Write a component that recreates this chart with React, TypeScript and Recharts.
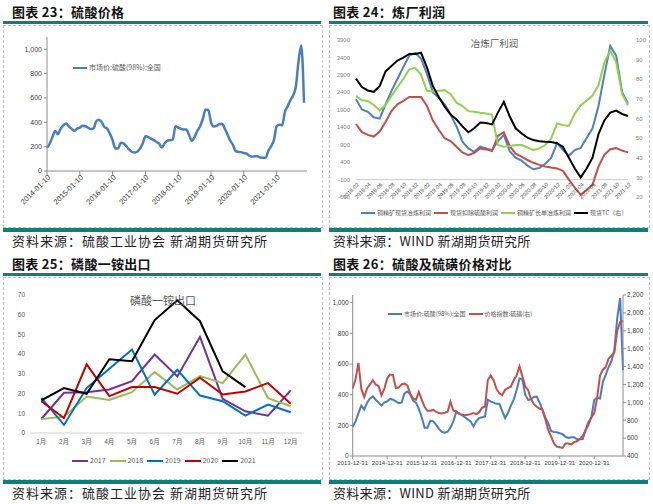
import React from 'react';
import { LineChart, Line, XAxis, YAxis, ReferenceLine } from 'recharts';

// ---- 图表23 / 图表26: 硫酸市场价 (98%, 全国), monthly 2014-01 .. 2021-11
const acidYears = [2014, 2015, 2016, 2017, 2018, 2019, 2020, 2021];
const monthNums = ['01', '02', '03', '04', '05', '06', '07', '08', '09', '10', '11', '12'];
const acid2014 = [190, 226, 280, 329, 302, 348, 375, 389, 367, 348, 329, 348];
const acid2015 = [356, 372, 367, 356, 345, 348, 408, 421, 402, 361, 348, 307];
const acid2016 = [253, 185, 185, 231, 226, 204, 177, 158, 152, 158, 185, 226];
const acid2017 = [285, 280, 266, 253, 239, 226, 193, 226, 247, 253, 258, 367];
const acid2018 = [356, 348, 340, 340, 293, 247, 280, 329, 367, 429, 505, 500];
const acid2019 = [400, 366, 370, 385, 388, 350, 300, 250, 215, 163, 157, 155];
const acid2020 = [148, 142, 125, 118, 122, 122, 110, 109, 111, 168, 204, 253];
const acid2021 = [367, 380, 375, 484, 530, 580, 620, 690, 900, 1030, 560];

// 价格指数: 硫磺 (右轴)
const sulfur2014 = [1155, 1260, 1441, 1150, 1060, 1155, 1200, 1247, 1200, 1180, 1080, 1150];
const sulfur2015 = [1270, 1310, 1305, 1160, 1165, 1200, 1210, 1190, 1100, 1043, 1030, 1117];
const sulfur2016 = [1030, 950, 906, 906, 915, 895, 880, 876, 883, 894, 1006, 906];
const sulfur2017 = [900, 870, 860, 857, 862, 868, 880, 868, 890, 940, 950, 1250];
const sulfur2018 = [1300, 1247, 1150, 1100, 1080, 1140, 1160, 1175, 1247, 1300, 1404, 1290];
const sulfur2019 = [1180, 1136, 1040, 980, 950, 931, 915, 810, 690, 616, 540, 504];
const sulfur2020 = [497, 490, 540, 540, 530, 555, 565, 590, 625, 690, 780, 830];
const sulfur2021 = [880, 1050, 1300, 1365, 1395, 1490, 1520, 1560, 1800, 1898, 1910];

const acidByYear = [acid2014, acid2015, acid2016, acid2017, acid2018, acid2019, acid2020, acid2021];
const sulfurByYear = [sulfur2014, sulfur2015, sulfur2016, sulfur2017, sulfur2018, sulfur2019, sulfur2020, sulfur2021];

// ---- 图表24: 冶炼厂利润, monthly 2018-02 .. 2021-12
const profitMonths = [
  '2018-02', '2018-03', '2018-04', '2018-05', '2018-06', '2018-07', '2018-08', '2018-09', '2018-10', '2018-11', '2018-12',
  '2019-01', '2019-02', '2019-03', '2019-04', '2019-05', '2019-06', '2019-07', '2019-08', '2019-09', '2019-10', '2019-11', '2019-12',
  '2020-01', '2020-02', '2020-03', '2020-04', '2020-05', '2020-06', '2020-07', '2020-08', '2020-09', '2020-10', '2020-11', '2020-12',
  '2021-01', '2021-02', '2021-03', '2021-04', '2021-05', '2021-06', '2021-07', '2021-08', '2021-09', '2021-10', '2021-11', '2021-12',
];
const spotProfit = [
  2201, 1910, 1842, 1686, 1647, 2055, 2443, 2783, 3123, 3450, 3531, 3366, 2929, 2395, 2249, 2055, 1764, 1424, 987, 793, 696, 841, 793, 744,
  1000, 1180, 712, 525, 446, 300, 194, 230, 350, 520, 947, 745, 580, 745, 806, 1088, 1369, 2000, 2900, 3731, 3450, 2404, 2072,
];
const spotExAcidProfit = [
  1492, 1259, 1181, 1133, 1278, 1550, 1861, 2055, 2152, 2269, 2269, 2269, 2007, 1589, 1327, 1084, 1006, 841, 676, 599, 667, 793, 764, 715,
  1150, 1256, 857, 640, 560, 460, 380, 320, 275, 244, 220, 150, -100, -330, -530, -400, -250, 270, 610, 770, 800, 730, 680,
];
const longTermProfit = [
  2298, 2172, 2152, 2036, 1880, 2036, 2298, 2541, 2783, 3055, 3104, 2910, 2443, 2424, 2443, 2463, 2346, 2104, 2007, 1861, 1842, 1812, 1793, 1764,
  890, 840, 860, 890, 890, 820, 745, 793, 890, 1075, 1505, 1460, 1440, 1790, 2025, 2168, 2310, 2593, 3250, 3600, 3260, 2357, 2025,
];
const spotTC = [
  80.3, 76, 74.3, 73.6, 76.5, 84, 86.7, 89.5, 91, 92.9, 92.9, 93.5, 86, 76.5, 71, 66, 62, 59.5, 56, 53, 55, 58, 57.7, 57,
  63, 68.5, 61, 55, 52.4, 50.2, 49, 48.4, 48.1, 48, 47.4, 45.5, 40, 34.5, 30, 34.5, 40, 52, 59, 63, 64, 62.3, 61.3,
];
const profitLeftTicks = [-600, -100, 400, 900, 1400, 1900, 2400, 2900, 3400, 3900];
const profitRightTicks = [20, 30, 40, 50, 60, 70, 80, 90, 100];

// ---- 图表25: 磷酸一铵出口 (万吨)
const exportMonths = ['1月', '2月', '3月', '4月', '5月', '6月', '7月', '8月', '9月', '10月', '11月', '12月'];
const export2017 = [7.1, 20.4, 20.7, 22.1, 26.3, 39.8, 28.7, 48.8, 17.3, 11, 8.8, 21.6];
const export2018 = [7.1, 8.3, 18.5, 16.8, 20.7, 30.9, 22.1, 28.9, 25.3, 39.8, 17.7, 13.6];
const export2019 = [17.8, 4.1, 22.8, 32.6, 42.3, 19.4, 32.1, 19, 16.1, 8.8, 14.4, 10.5];
const export2020 = [16.1, 7.6, 34.8, 18.7, 23.3, 23.3, 19.9, 28, 19.5, 21.1, 25.3, 14.8];
const export2021 = [16.5, 22.8, 19.9, 37.4, 36.4, 57.3, 67.3, 56.7, 31.3, 23.3];
const exportTicks = [0, 10, 20, 30, 40, 50, 60, 70];

const TEAL = '#0c7f77';
const CN = '"Noto Sans CJK SC", sans-serif';
const NUM = '"Liberation Sans", "Noto Sans CJK SC", sans-serif';
const AXIS = '#8c8c8c';
const fmt = (v: number) => v.toLocaleString('en-US');

const acidRows = acidYears.flatMap((y, yi) =>
  acidByYear[yi].map((v, mi) => ({ d: `${y}-${monthNums[mi]}-10`, acid: v, sulfur: sulfurByYear[yi][mi] }))
);
const janKeys = acidYears.map((y) => `${y}-01-10`);

const profitRows = profitMonths.map((m, i) => ({
  m,
  spot: spotProfit[i],
  net: spotExAcidProfit[i],
  longTerm: longTermProfit[i],
  tc: spotTC[i],
}));

const exportRows = exportMonths.map((m, i) => ({
  m,
  y2017: export2017[i],
  y2018: export2018[i],
  y2019: export2019[i],
  y2020: export2020[i],
  y2021: i < export2021.length ? export2021[i] : null,
}));

const profitSeries = [
  { key: 'spot', name: '铜精矿现货冶炼利润', color: '#4f81bd', axis: 'l' },
  { key: 'net', name: '现货扣除硫酸利润', color: '#c0504d', axis: 'l' },
  { key: 'longTerm', name: '铜精矿长单冶炼利润', color: '#92d050', axis: 'l' },
  { key: 'tc', name: '现货TC（右）', color: '#000000', axis: 'r' },
];

const exportSeries = [
  { key: 'y2017', name: '2017', color: '#7030a0' },
  { key: 'y2018', name: '2018', color: '#9bbb59' },
  { key: 'y2019', name: '2019', color: '#0070c0' },
  { key: 'y2020', name: '2020', color: '#c00000' },
  { key: 'y2021', name: '2021', color: '#000000' },
];

const rotatedTick = (fontSize: number, dx: number, dy: number) => (props: any) => {
  const { x, y, payload } = props;
  return (
    <g transform={`translate(${x + dx},${y + dy})`}>
      <text x={0} y={0} dy={fontSize * 0.35} textAnchor="end" transform="rotate(-45)" fontSize={fontSize} fill="#404040">
        {payload.value}
      </text>
    </g>
  );
};

type LegendItem = { name: string; color: string };

function LegendRow({ items, left, top, fontSize, lineW, gap }: { items: LegendItem[]; left: number; top: number; fontSize: number; lineW: number; gap: number }) {
  return (
    <div style={{ position: 'absolute', left, top, display: 'flex', alignItems: 'center', gap, fontSize, color: '#595959', whiteSpace: 'nowrap', lineHeight: 1, fontFamily: CN }}>
      {items.map((it) => (
        <div key={it.name} style={{ display: 'flex', alignItems: 'center' }}>
          <span style={{ display: 'inline-block', width: lineW, height: 2, background: it.color, marginRight: 2 }} />
          <span>{it.name}</span>
        </div>
      ))}
    </div>
  );
}

function Panel({ left, top, width, title, source, textX, spacing, children }: { left: number; top: number; width: number; title: string; source: string; textX: number; spacing: number; children: React.ReactNode }) {
  return (
    <div style={{ position: 'absolute', left, top, width, height: 252 }}>
      <div style={{ position: 'absolute', left: textX, top: 4, fontFamily: CN, fontWeight: 700, fontSize: 13, lineHeight: '15px', color: '#111', whiteSpace: 'nowrap', letterSpacing: 0.3 }}>
        {title}
      </div>
      <div style={{ position: 'absolute', left: 3, top: 21, width: width - 8, height: 3, background: TEAL }} />
      <div style={{ position: 'absolute', left: 3, top: 25, width: width - 6, height: 203, border: '1px dashed #c4c4c4', boxSizing: 'border-box' }} />
      <div style={{ position: 'absolute', left: 0, top: 25 }}>{children}</div>
      <div style={{ position: 'absolute', left: 3, top: 228, width: width - 8, height: 3.5, background: TEAL }} />
      <div style={{ position: 'absolute', left: textX, top: 233, fontFamily: CN, fontSize: 13, lineHeight: '16px', color: '#222', whiteSpace: 'nowrap', letterSpacing: spacing }}>
        {source}
      </div>
    </div>
  );
}

export default function App() {
  return (
    <div style={{ position: 'absolute', left: 0, top: 0, width: 653, height: 504, background: '#fff', fontFamily: NUM, overflow: 'hidden' }}>
      {/* 图表23 */}
      <Panel left={0} top={0} width={326} title="图表 23：硫酸价格" source="资料来源：硫酸工业协会  新湖期货研究所" textX={12} spacing={1}>
        <LineChart width={326} height={203} data={acidRows} margin={{ top: 12, right: 19, bottom: 0, left: 0 }}>
          <XAxis
            dataKey="d"
            ticks={janKeys}
            interval={0}
            height={57}
            tickSize={4}
            tickMargin={1}
            stroke={AXIS}
            padding={{ left: 0, right: 3 }}
            tick={rotatedTick(7.5, 2, 0)}
          />
          <YAxis
            width={47}
            domain={[0, 1100]}
            ticks={[0, 200, 400, 600, 800, 1000]}
            tickFormatter={fmt}
            tickSize={3}
            tickMargin={2}
            stroke={AXIS}
            tick={{ fontSize: 7, fill: '#404040' }}
          />
          <Line type="monotone" dataKey="acid" stroke="#4a7dbd" strokeWidth={2.5} dot={false} isAnimationActive={false} />
        </LineChart>
        <LegendRow items={[{ name: '市场价:硫酸(98%):全国', color: '#4a7dbd' }]} left={73} top={39} fontSize={7} lineW={14} gap={0} />
      </Panel>

      {/* 图表24 */}
      <Panel left={326} top={0} width={327} title="图表 24：炼厂利润" source="资料来源：WIND 新湖期货研究所" textX={7} spacing={0.3}>
        <LineChart width={327} height={203} data={profitRows} margin={{ top: 15, right: 3, bottom: 0, left: 0 }}>
          <XAxis
            dataKey="m"
            interval={1}
            height={31}
            axisLine={false}
            tickLine={false}
            tickSize={0}
            tickMargin={0}
            tick={rotatedTick(5.5, 2, -13.5)}
          />
          <YAxis
            yAxisId="l"
            width={30}
            domain={[-600, 3900]}
            ticks={profitLeftTicks}
            axisLine={false}
            tickLine={false}
            tickSize={0}
            tickMargin={6}
            tick={{ fontSize: 6, fill: '#7f7f7f' }}
          />
          <YAxis
            yAxisId="r"
            orientation="right"
            width={22}
            domain={[20, 100]}
            ticks={profitRightTicks}
            axisLine={false}
            tickLine={false}
            tickSize={0}
            tickMargin={8}
            tick={{ fontSize: 6, fill: '#7f7f7f' }}
          />
          <ReferenceLine yAxisId="l" y={-100} stroke="#d0d0d0" strokeWidth={1} />
          {profitSeries.map((s) => (
            <Line key={s.key} yAxisId={s.axis} type="linear" dataKey={s.key} name={s.name} stroke={s.color} strokeWidth={2} dot={false} isAnimationActive={false} />
          ))}
        </LineChart>
        <div style={{ position: 'absolute', left: 0, width: 337, top: 11, textAlign: 'center', fontFamily: CN, fontSize: 9.5, color: '#595959' }}>冶炼厂利润</div>
        <LegendRow items={profitSeries} left={35} top={185} fontSize={6} lineW={14} gap={3} />
      </Panel>

      {/* 图表25 */}
      <Panel left={0} top={252} width={326} title="图表 25：磷酸一铵出口" source="资料来源：硫酸工业协会  新湖期货研究所" textX={12} spacing={1}>
        <LineChart width={326} height={203} data={exportRows} margin={{ top: 18, right: 24, bottom: 0, left: 0 }}>
          <XAxis
            dataKey="m"
            height={47}
            padding={{ left: 11.3, right: 11.3 }}
            stroke="#d0d0d0"
            tickLine={false}
            tickSize={0}
            tickMargin={6}
            interval={0}
            tick={{ fontSize: 6.5, fill: '#595959' }}
          />
          <YAxis
            width={30}
            domain={[0, 70]}
            ticks={exportTicks}
            axisLine={false}
            tickLine={false}
            tickSize={0}
            tickMargin={5}
            tick={{ fontSize: 6.5, fill: '#595959' }}
          />
          {exportSeries.map((s) => (
            <Line key={s.key} type="linear" dataKey={s.key} name={s.name} stroke={s.color} strokeWidth={2} dot={false} isAnimationActive={false} />
          ))}
        </LineChart>
        <div style={{ position: 'absolute', left: 0, width: 326, top: 15, textAlign: 'center', fontFamily: CN, fontSize: 11, color: '#595959' }}>磷酸一铵出口</div>
        <LegendRow items={exportSeries} left={72} top={180} fontSize={7} lineW={16} gap={4} />
      </Panel>

      {/* 图表26 */}
      <Panel left={326} top={252} width={327} title="图表 26：硫酸及硫磺价格对比" source="资料来源：WIND 新湖期货研究所" textX={7} spacing={0.3}>
        <LineChart width={327} height={203} data={acidRows} margin={{ top: 18, right: 4, bottom: 0, left: 0 }}>
          <XAxis
            dataKey="d"
            ticks={janKeys}
            interval={0}
            height={24}
            tickSize={3}
            tickMargin={2}
            stroke={AXIS}
            tickFormatter={(k: string) => `${Number(k.slice(0, 4)) - 1}-12-31`}
            tick={{ fontSize: 6, fill: '#404040' }}
          />
          <YAxis
            yAxisId="l"
            width={26.7}
            domain={[0, 1050]}
            ticks={[0, 200, 400, 600, 800, 1000]}
            tickFormatter={fmt}
            tickSize={3}
            tickMargin={1}
            stroke={AXIS}
            tick={{ fontSize: 6.5, fill: '#404040' }}
          />
          <YAxis
            yAxisId="r"
            orientation="right"
            width={26}
            domain={[400, 2200]}
            ticks={[400, 600, 800, 1000, 1200, 1400, 1600, 1800, 2000, 2200]}
            tickFormatter={fmt}
            tickSize={3}
            tickMargin={1}
            stroke={AXIS}
            tick={{ fontSize: 6.5, fill: '#404040' }}
          />
          <Line yAxisId="l" type="linear" dataKey="acid" name="市场价:硫酸(98%):全国" stroke="#4a7dbd" strokeWidth={2} dot={false} isAnimationActive={false} />
          <Line yAxisId="r" type="linear" dataKey="sulfur" name="价格指数:硫磺(右)" stroke="#c0504d" strokeWidth={2} dot={false} isAnimationActive={false} />
        </LineChart>
        <LegendRow
          items={[
            { name: '市场价:硫酸(98%):全国', color: '#4a7dbd' },
            { name: '价格指数:硫磺(右)', color: '#c0504d' },
          ]}
          left={62}
          top={34}
          fontSize={6}
          lineW={14}
          gap={3}
        />
      </Panel>
    </div>
  );
}
